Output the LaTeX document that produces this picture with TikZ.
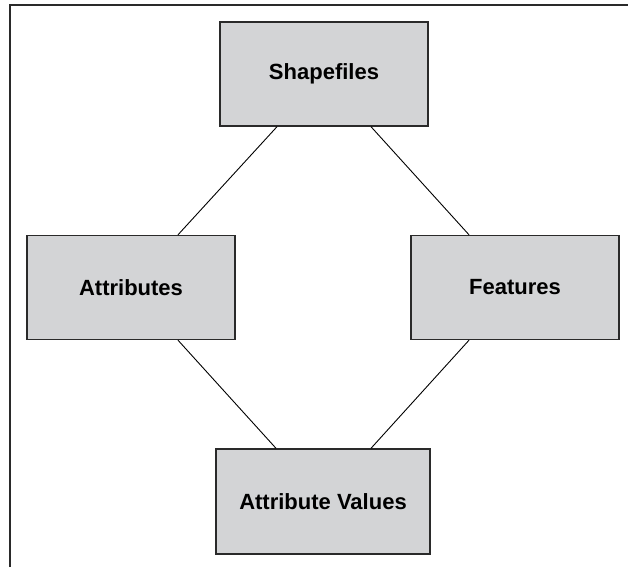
\documentclass[tikz,border=0pt]{standalone}
\usepackage{fontspec}
\setmainfont{Liberation Sans}
\definecolor{boxgray}{HTML}{D3D4D6}
\definecolor{edgegray}{HTML}{2A2A2A}
\begin{document}
\begin{tikzpicture}[x=1pt,y=-1pt,
  entity/.style={draw=edgegray, line width=1.4pt, fill=boxgray, rectangle,
    minimum width=208pt, minimum height=104pt, inner sep=0pt,
    font=\fontsize{22}{26}\selectfont\bfseries},
  link/.style={draw=black, line width=0.9pt}]
\useasboundingbox (0,0) rectangle (628,567);
\coordinate (fb) at (10,567);
\coordinate (ftl) at (10,5);
\coordinate (ftr) at (628,5);
\draw[line width=1.2pt, draw=edgegray] (fb) -- (ftl) -- (ftr);
\node[entity] (shp) at (324,74) {Shapefiles};
\node[entity] (att) at (131,287.5) {Attributes};
\node[entity] (fea) at (515,287.5) {Features};
\node[entity, minimum width=214pt, minimum height=105pt] (val) at (323,501.5) {Attribute Values};
\draw[link] ([xshift=-47pt]shp.south) -- ([xshift=47pt]att.north);
\draw[link] ([xshift=47pt]shp.south) -- ([xshift=-46pt]fea.north);
\draw[link] ([xshift=47pt]att.south) -- ([xshift=-47pt]val.north);
\draw[link] ([xshift=-46pt]fea.south) -- ([xshift=48pt]val.north);
\end{tikzpicture}
\end{document}
